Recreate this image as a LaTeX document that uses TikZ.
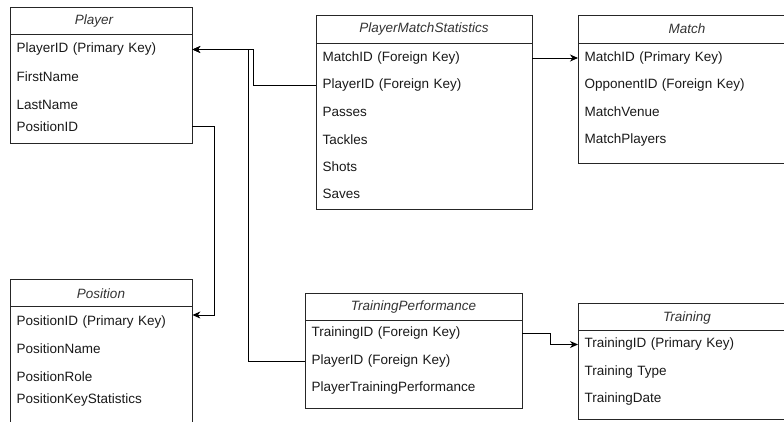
\documentclass[tikz,border=0pt]{standalone}
\usepackage{fontspec}
\setmainfont{Liberation Sans}
\usetikzlibrary{arrows.meta}
\begin{document}
\begin{tikzpicture}[x=1pt,y=-1pt,
  box/.style={draw=black!85, line width=0.9pt, anchor=north west, inner sep=0pt},
  hdr/.style={draw=black!85, line width=0.9pt},
  title/.style={font=\fontsize{13.5}{16}\selectfont\itshape, text=black!80, inner sep=1pt},
  row/.style={anchor=west, align=left, inner xsep=6.5pt, inner ysep=2pt, font=\fontsize{13.5}{16}\selectfont, text=black!90},
  conn/.style={draw=black, line width=0.9pt},
  arr/.style={conn, -{Stealth[length=8pt,width=7pt,inset=2.5pt]}}]
\useasboundingbox (0,0) rectangle (784,421);
\clip (0,0) rectangle (784,421);

% Player
\node[box, minimum width=182pt, minimum height=136pt] (player) at (10,7) {};
\draw[hdr] (10,34) -- (192,34);
\node[title] (player-t) at (94,21) {Player};
\node[row, text width=169pt] (pl-pid) at (10,49.5) {PlayerID (Primary Key)};
\node[row, text width=169pt] (pl-fn) at (10,77) {FirstName};
\node[row, text width=169pt] (pl-ln) at (10,105) {LastName};
\node[row, text width=169pt] (pl-pos) at (10,126.5) {PositionID};

% PlayerMatchStatistics
\node[box, minimum width=216pt, minimum height=194pt] (pms) at (316,15) {};
\draw[hdr] (316,43) -- (532,43);
\node[title] (pms-t) at (424,29) {PlayerMatchStatistics};
\node[row, text width=203pt] (pms-mid) at (316,58) {MatchID (Foreign Key)};
\node[row, text width=203pt] (pms-pid) at (316,85) {PlayerID (Foreign Key)};
\node[row, text width=203pt] (pms-pa) at (316,112) {Passes};
\node[row, text width=203pt] (pms-ta) at (316,140) {Tackles};
\node[row, text width=203pt] (pms-sh) at (316,167) {Shots};
\node[row, text width=203pt] (pms-sa) at (316,194) {Saves};

% Match
\node[box, minimum width=218pt, minimum height=148pt] (match) at (578,15) {};
\draw[hdr] (578,43) -- (796,43);
\node[title] (match-t) at (687,29) {Match};
\node[row, text width=205pt] (m-id) at (578,58) {MatchID (Primary Key)};
\node[row, text width=205pt] (m-opp) at (578,85) {OpponentID (Foreign Key)};
\node[row, text width=205pt] (m-ven) at (578,112) {MatchVenue};
\node[row, text width=205pt] (m-pl) at (578,140) {MatchPlayers};

% Position
\node[box, minimum width=182pt, minimum height=150pt] (position) at (10,279) {};
\draw[hdr] (10,306) -- (192,306);
\node[title] (pos-t) at (101,294) {Position};
\node[row, text width=169pt] (pos-id) at (10,322) {PositionID (Primary Key)};
\node[row, text width=169pt] (pos-name) at (10,349) {PositionName};
\node[row, text width=169pt] (pos-role) at (10,377) {PositionRole};
\node[row, text width=169pt] (pos-ks) at (10,400) {PositionKeyStatistics};

% TrainingPerformance
\node[box, minimum width=217pt, minimum height=115pt] (tp) at (305,293) {};
\draw[hdr] (305,320) -- (522,320);
\node[title] (tp-t) at (413.5,307) {TrainingPerformance};
\node[row, text width=204pt] (tp-tid) at (305,333.5) {TrainingID (Foreign Key)};
\node[row, text width=204pt] (tp-pid) at (305,361) {PlayerID (Foreign Key)};
\node[row, text width=204pt] (tp-ptp) at (305,388) {PlayerTrainingPerformance};

% Training
\node[box, minimum width=218pt, minimum height=116pt] (training) at (578,303) {};
\draw[hdr] (578,330) -- (796,330);
\node[title] (tr-t) at (687,318) {Training};
\node[row, text width=205pt] (tr-id) at (578,344.5) {TrainingID (Primary Key)};
\node[row, text width=205pt] (tr-type) at (578,372) {Training Type};
\node[row, text width=205pt] (tr-date) at (578,399) {TrainingDate};

% bend coordinates
\coordinate (j1) at (253,0);
\coordinate (j2) at (248,0);
\coordinate (j3) at (214,0);
\coordinate (j5) at (550,0);

% connectors
\draw[arr] (pms-pid.west) -- (pms-pid.west -| j1) |- (pl-pid.east);
\draw[arr] (tp-pid.west) -- (tp-pid.west -| j2) |- (pl-pid.east);
\draw[arr] (pms-mid.east) -- (m-id.west);
\draw[arr] (pl-pos.east) -- (pl-pos.east -| j3) |- ([yshift=7pt]pos-id.east);
\draw[arr] (tp-tid.east) -- (tp-tid.east -| j5) |- (tr-id.west);
\end{tikzpicture}
\end{document}
